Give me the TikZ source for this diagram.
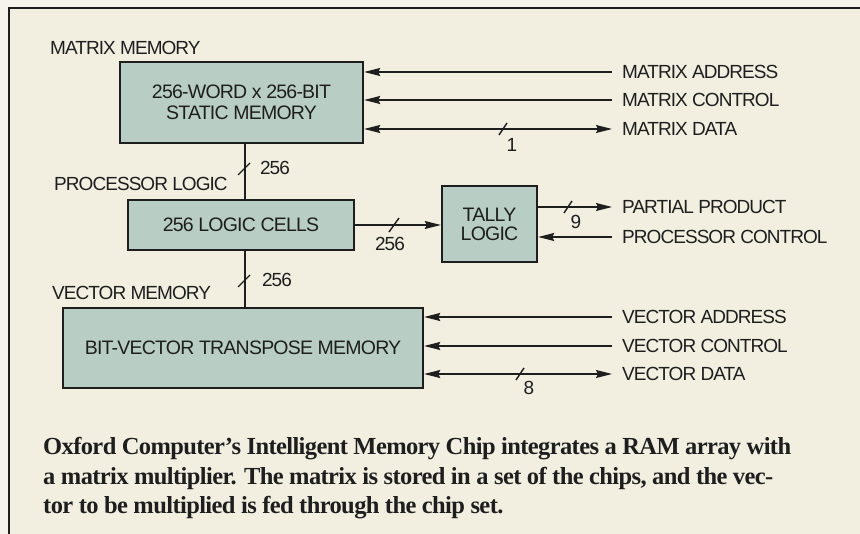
\documentclass[tikz,border=0pt]{standalone}
\usepackage{fontspec}
\setmainfont{Liberation Serif}
\setsansfont{Liberation Sans}
\newfontfamily\labelfont[LetterSpace=-5]{Liberation Sans}
\newfontfamily\boxfont[LetterSpace=-4]{Liberation Sans}
\newfontfamily\capfont[LetterSpace=-2.5]{Liberation Serif}
\usetikzlibrary{arrows.meta,calc}
\definecolor{bgout}{HTML}{F5F3EB}
\definecolor{bgin}{HTML}{F2EFE1}
\definecolor{boxfill}{HTML}{B8CEC4}
\definecolor{ink}{HTML}{1E1E1E}
\begin{document}
\begin{tikzpicture}[x=1pt,y=-1pt,
  blk/.style={draw=ink, line width=2.4pt, fill=boxfill, inner sep=0pt, text=ink, align=center,
    font=\boxfont\fontsize{19.5}{20.5}\selectfont},
  lbl/.style={font=\labelfont\fontsize{19}{20}\selectfont, text=ink, inner sep=0pt,
    text height=13.6pt, text depth=0pt},
  num/.style={font=\labelfont\fontsize{19}{20}\selectfont, text=ink, inner sep=0pt,
    text height=13.6pt, text depth=0pt},
  wire/.style={draw=ink, line width=1.3pt},
  arr/.style={wire, -{Stealth[length=16pt,width=8pt,inset=2pt]}},
  biarr/.style={wire, {Stealth[length=16pt,width=8pt,inset=2pt]}-{Stealth[length=16pt,width=8pt,inset=2pt]}},
  slash/.style={draw=ink, line width=1.4pt},
  captxt/.style={anchor=base west, inner sep=0pt, text=ink, font=\capfont\bfseries\fontsize{24.5}{29}\selectfont}
]
\useasboundingbox (0,0) rectangle (860,534);
\fill[bgout] (0,0) rectangle (860,534);
\fill[bgin] (9,8) rectangle (860,534);
\draw[draw=ink, line width=1.6pt] (9,534) -- (9,8) -- (860,8);

% blocks
\node[blk, minimum width=243pt, minimum height=81pt] (mm) at (241.5,102.5) {256-WORD x 256-BIT\\STATIC MEMORY};
\node[blk, minimum width=226pt, minimum height=50pt] (lc) at (241,225) {256 LOGIC CELLS};
\node[blk, minimum width=95pt, minimum height=76pt, font=\boxfont\fontsize{19.5}{19}\selectfont] (tl) at (489.5,224) {TALLY\\LOGIC};
\node[blk, minimum width=360pt, minimum height=80pt] (bv) at (243,348) {BIT-VECTOR TRANSPOSE MEMORY};

% section labels
\node[lbl, anchor=west] (tmm) at (50,48) {MATRIX MEMORY};
\node[lbl, anchor=west] (tpl) at (54,184) {PROCESSOR LOGIC};
\node[lbl, anchor=west] (tvm) at (52,293) {VECTOR MEMORY};

% right labels
\node[lbl, anchor=west] (lma) at (622,72) {MATRIX ADDRESS};
\node[lbl, anchor=west] (lmc) at (622,100) {MATRIX CONTROL};
\node[lbl, anchor=west] (lmd) at (622,129) {MATRIX DATA};
\node[lbl, anchor=west] (lpp) at (622,207) {PARTIAL PRODUCT};
\node[lbl, anchor=west] (lpc) at (622,237) {PROCESSOR CONTROL};
\node[lbl, anchor=west] (lva) at (622,317) {VECTOR ADDRESS};
\node[lbl, anchor=west] (lvc) at (622,346) {VECTOR CONTROL};
\node[lbl, anchor=west] (lvd) at (622,374) {VECTOR DATA};

% free ends
\coordinate (ema) at (612,72);
\coordinate (emc) at (612,100);
\coordinate (emd) at (612,129);
\coordinate (epp) at (612,207);
\coordinate (epc) at (612,237);
\coordinate (eva) at (612,317);
\coordinate (evc) at (612,346);
\coordinate (evd) at (612,374);
\coordinate (vx) at (245,0);

% matrix connectors
\draw[arr] (ema) -- (ema -| mm.east);
\draw[arr] (emc) -- (emc -| mm.east);
\draw[biarr] (emd -| mm.east) -- (emd);
\draw[slash] (499,135) -- (507,123);
\node[num] (n1) at (512,145) {1};

% vertical buses
\draw[wire] (mm.south -| vx) -- (lc.north -| vx);
\draw[slash] (238,175) -- (250,163);
\node[num] (n256a) at (275,168) {256};
\draw[wire] (lc.south -| vx) -- (bv.north -| vx);
\draw[slash] (238,287) -- (250,275);
\node[num] (n256b) at (277,280) {256};

% logic to tally
\draw[arr] (lc.east) -- (tl.west |- lc.east);
\draw[slash] (389,232) -- (399,218);
\node[num] (n256c) at (390,244) {256};

% tally connectors
\draw[arr] (tl.east |- epp) -- (epp);
\draw[slash] (564,213) -- (572,201);
\node[num] (n9) at (576,222) {9};
\draw[arr] (epc) -- (epc -| tl.east);

% vector connectors
\draw[arr] (eva) -- (eva -| bv.east);
\draw[arr] (evc) -- (evc -| bv.east);
\draw[biarr] (evd -| bv.east) -- (evd);
\draw[slash] (516,380) -- (524,368);
\node[num] (n8) at (529,388) {8};

% caption
\node[captxt] (c1) at (43,455) {Oxford Computer’s Intelligent Memory Chip integrates a RAM array with};
\node[captxt] (c2) at (43,485) {a matrix multiplier. The matrix is stored in a set of the chips, and the vec-};
\node[captxt] (c3) at (43,514) {tor to be multiplied is fed through the chip set.};
\end{tikzpicture}
\end{document}
